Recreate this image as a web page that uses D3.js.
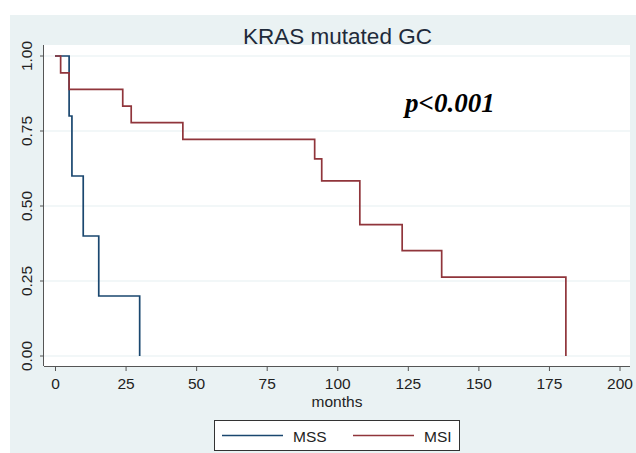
<!DOCTYPE html>
<html>
<head>
<meta charset="utf-8">
<script src="https://cdn.jsdelivr.net/npm/d3@7"></script>
<style>
  body { margin: 0; background: #fff; }
  svg { display: block; font-family: Arial, "Liberation Sans", sans-serif; }
</style>
</head>
<body>
<div class="graph"></div>
<script>
// Data
let mssTime = [0, 5, 6, 10, 15.5, 30];
let mssSurv = [1, 0.8, 0.6, 0.4, 0.2, 0];
let msiTime = [0, 2, 5, 24, 27, 45.3, 92, 94.5, 108, 123, 137, 181];
let msiSurv = [1, 0.944, 0.889, 0.833, 0.778, 0.722, 0.657, 0.584, 0.438, 0.351, 0.263, 0];
let xTicks = [0, 25, 50, 75, 100, 125, 150, 175, 200];
let yTicks = [0, 0.25, 0.5, 0.75, 1];
let seriesNames = ["MSS", "MSI"];
let seriesColors = ["#1a476f", "#90353b"];

let width = 636;
let height = 453;
let plot = { left: 44, right: 630, top: 45, bottom: 366 };

let svg = d3
  .select(".graph")
  .append("svg")
  .attr("width", width)
  .attr("height", height);

// Graph region background
svg
  .append("rect")
  .attr("x", 10)
  .attr("y", 15)
  .attr("width", width - 10)
  .attr("height", height - 15)
  .attr("fill", "#eaf2f3");

// Plot region
svg
  .append("rect")
  .attr("x", plot.left)
  .attr("y", plot.top)
  .attr("width", plot.right - plot.left)
  .attr("height", plot.bottom - plot.top)
  .attr("fill", "#fff");

let x = d3.scaleLinear().domain([0, 200]).range([55, 619.5]);
let y = d3.scaleLinear().domain([0, 1]).range([356, 56]);

// Gridlines
svg
  .append("g")
  .selectAll("line")
  .data(yTicks)
  .enter()
  .append("line")
  .attr("x1", plot.left)
  .attr("x2", plot.right)
  .attr("y1", (d) => y(d))
  .attr("y2", (d) => y(d))
  .attr("stroke", "#e6eff1")
  .attr("stroke-width", 1.2);

// Axes
let xAxis = svg
  .append("g")
  .attr("transform", `translate(0,${plot.bottom})`)
  .call(d3.axisBottom(x).tickValues(xTicks).tickSize(5).tickPadding(4).tickSizeOuter(0));
xAxis.select(".domain").attr("d", `M${plot.left},0.5H${plot.right}`);

let yAxis = svg
  .append("g")
  .attr("transform", `translate(${plot.left},0)`)
  .call(
    d3.axisLeft(y).tickValues(yTicks).tickSize(4).tickFormat(d3.format(".2f")).tickSizeOuter(0)
  );
yAxis.select(".domain").attr("d", `M-0.5,${plot.top}V${plot.bottom}`);

svg.selectAll(".domain").attr("stroke", "#555");
svg.selectAll(".tick line").attr("stroke", "#555");
xAxis
  .selectAll(".tick text")
  .attr("font-size", 15.5)
  .attr("fill", "#222")
  .attr("dy", "0.9em");
yAxis
  .selectAll(".tick text")
  .attr("font-size", 15.5)
  .attr("fill", "#222")
  .attr("text-anchor", "middle")
  .attr("x", 0)
  .attr("dy", 0)
  .attr("transform", (d) => `translate(-12.5,${y(d)}) rotate(-90)`)
  .attr("y", 0);
yAxis.selectAll(".tick").attr("transform", null);
yAxis.selectAll(".tick line").attr("transform", (d) => `translate(0,${y(d)})`);

// Axis title
svg
  .append("text")
  .attr("x", 337)
  .attr("y", 406.5)
  .attr("text-anchor", "middle")
  .attr("font-size", 15.5)
  .attr("fill", "#222")
  .text("months");

// Title
svg
  .append("text")
  .attr("x", 337.5)
  .attr("y", 44)
  .attr("text-anchor", "middle")
  .attr("font-size", 22.5)
  .attr("fill", "#1e2a3a")
  .text("KRAS mutated GC");

// Curves
let line = d3
  .line()
  .x((d) => x(d[0]))
  .y((d) => y(d[1]))
  .curve(d3.curveStepAfter);

let curves = [d3.zip(mssTime, mssSurv), d3.zip(msiTime, msiSurv)];

svg
  .append("g")
  .selectAll("path")
  .data(curves)
  .enter()
  .append("path")
  .attr("d", line)
  .attr("fill", "none")
  .attr("stroke", (d, i) => seriesColors[i])
  .attr("stroke-width", 1.7);

// p value
svg
  .append("text")
  .attr("x", 405)
  .attr("y", 111.5)
  .attr("font-family", "'Liberation Serif', 'Times New Roman', serif")
  .attr("font-weight", "bold")
  .attr("font-style", "italic")
  .attr("font-size", 27)
  .attr("fill", "#000")
  .text("p<0.001");

// Legend
let legend = svg.append("g");
legend
  .append("rect")
  .attr("x", 214.5)
  .attr("y", 420.5)
  .attr("width", 245)
  .attr("height", 30)
  .attr("fill", "#fff")
  .attr("stroke", "#333")
  .attr("stroke-width", 1);

let legendX = [222, 353];
let items = legend
  .selectAll("g")
  .data(seriesNames)
  .enter()
  .append("g")
  .attr("transform", (d, i) => `translate(${legendX[i]},0)`);
items
  .append("line")
  .attr("x1", 0)
  .attr("x2", 61)
  .attr("y1", 435.5)
  .attr("y2", 435.5)
  .attr("stroke", (d, i) => seriesColors[i])
  .attr("stroke-width", 1.7);
items
  .append("text")
  .attr("x", 71)
  .attr("y", 441.5)
  .attr("font-size", 15.5)
  .attr("fill", "#222")
  .text((d) => d);
</script>
</body>
</html>
